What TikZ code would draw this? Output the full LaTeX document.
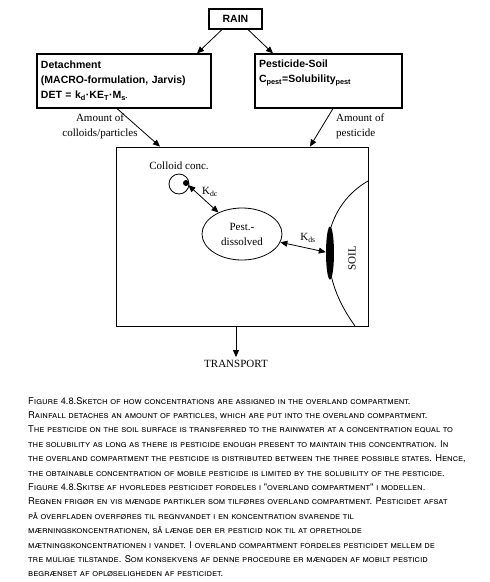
\documentclass[tikz,border=0pt]{standalone}
\usepackage{fontspec}
\setmainfont{Liberation Serif}
\newfontfamily\boxfont{Liberation Sans}
\newfontfamily\capfont{TeX Gyre Heros}
\usetikzlibrary{shapes.geometric,arrows.meta}

\begin{document}
\begin{tikzpicture}[x=1pt,y=-1pt,font=\fontsize{11}{15}\selectfont,>={Triangle[length=7pt,width=6pt]}]
      \useasboundingbox (0,0) rectangle (490,582);
      \begin{scope}[every node/.style={draw,line width=1.1pt,inner sep=4pt,font=\boxfont\bfseries\fontsize{10.5}{15}\selectfont}]
        \node[minimum width=53pt,minimum height=20pt] (rain) at (235.5,19) {RAIN};
        \node[minimum width=174pt,minimum height=54pt,text width=166pt,align=left] (det) at (124,81)
          {Detachment\\(MACRO-formulation, Jarvis)\\DET = k\textsubscript{d}·KE\textsubscript{T}·M\textsubscript{s·}};
        \node[minimum width=147pt,minimum height=54pt,text width=139pt,align=left] (psoil) at (328.5,81)
          {Pesticide-Soil\\C\textsubscript{pest}=Solubility\textsubscript{pest}\\\strut};
      \end{scope}
      \node[draw,line width=0.9pt,minimum width=252pt,minimum height=179pt,inner sep=0pt] (overland) at (242,236.5) {};
      \begin{scope}[every node/.style={inner sep=1pt}]
        \node[align=center] (lcoll) at (100,126) {Amount of\\colloids/particles};
        \node[align=left,anchor=west] (lpest) at (335,126) {Amount of\\pesticide};
        \node (collbl) at (179,166) {Colloid conc.};
        \node[circle,draw,thick,minimum size=20pt,inner sep=0pt] (colloid) at (179,184) {};
        \node[circle,fill,minimum size=6pt,inner sep=0pt] (cdot) at (186,183) {};
        \node[ellipse,draw,thick,minimum width=80pt,minimum height=52pt,align=center] (pest) at (242,234) {Pest.-\\dissolved};
        \node[ellipse,fill,minimum width=8pt,minimum height=53pt,inner sep=0pt] (blob) at (330,253) {};
        \node (kdc) at (210,192) {K\textsubscript{dc}};
        \node (kds) at (308,238) {K\textsubscript{ds}};
        \node[rotate=90] (soil) at (352,258) {SOIL};
        \node[inner sep=3pt] (transport) at (236,364) {TRANSPORT};
      \end{scope}
      \draw[thick] (368,181) .. controls (335,200) and (325,235) .. (328,257)
        .. controls (331,285) and (340,305) .. (355,326);
      \begin{scope}[every edge/.style={draw,thick,->}]
        \path ([xshift=-13.5pt]rain.south) edge ([xshift=73pt]det.north);
        \path ([xshift=12.5pt]rain.south) edge ([xshift=-55.5pt]psoil.north);
        \path ([xshift=-7pt]det.south) edge ([xshift=-82pt]overland.north);
        \path ([xshift=4.5pt]psoil.south) edge ([xshift=68pt]overland.north);
        \path ([xshift=-6pt]overland.south) edge (transport.north);
        \path (cdot) edge[<->] (pest);
        \path (pest) edge[<->] (blob);
      \end{scope}
      \node[anchor=north west,align=left,inner sep=0pt,font=\capfont\fontsize{9.3}{14.4}\selectfont] (caption) at (28,397)
        {\textsc{Figure 4.8.Sketch of how concentrations are assigned in the overland compartment.}\\
         \textsc{Rainfall detaches an amount of particles, which are put into the overland compartment.}\\
         \textsc{The pesticide on the soil surface is transferred to the rainwater at a concentration equal to}\\
         \textsc{the solubility as long as there is pesticide enough present to maintain this concentration. In}\\
         \textsc{the overland compartment the pesticide is distributed between the three possible states. Hence,}\\
         \textsc{the obtainable concentration of mobile pesticide is limited by the solubility of the pesticide.}\\
         \textsc{Figure 4.8.Skitse af hvorledes pesticidet fordeles i "overland compartment" i modellen.}\\
         \textsc{Regnen frigør en vis mængde partikler som tilføres overland compartment. Pesticidet afsat}\\
         \textsc{på overfladen overføres til regnvandet i en koncentration svarende til}\\
         \textsc{mærningskoncentrationen, så længe der er pesticid nok til at opretholde}\\
         \textsc{mætningskoncentrationen i vandet. I overland compartment fordeles pesticidet mellem de}\\
         \textsc{tre mulige tilstande. Som konsekvens af denne procedure er mængden af mobilt pesticid}\\
         \textsc{begrænset af opløseligheden af pesticidet.}};
    \end{tikzpicture}
\end{document}
